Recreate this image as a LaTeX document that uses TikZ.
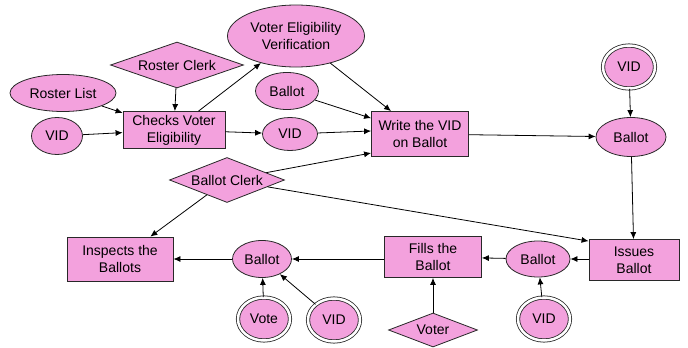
\documentclass[tikz,border=0pt]{standalone}
\usepackage{fontspec}
\setmainfont{Liberation Sans}
\usetikzlibrary{shapes.geometric,arrows.meta}
\definecolor{pinkf}{RGB}{243,161,221}
\definecolor{edgec}{RGB}{40,40,40}
\begin{document}
\begin{tikzpicture}[x=1pt,y=-1pt,
 every node/.style={font=\fontsize{14}{17}\selectfont, align=center, inner sep=0pt},
 base/.style={draw=edgec, fill=pinkf, line width=0.8pt},
 ell/.style={base, ellipse},
 dell/.style={ell, double, double distance=2.5pt, minimum width=52pt, minimum height=43pt},
 box/.style={base, rectangle},
 dia/.style={base, diamond},
 arr/.style={-{Latex[length=7pt,width=6pt]}, line width=0.8pt, draw=black}]
\path[fill=white] (0,0) rectangle (688,348);
\useasboundingbox (0,0) rectangle (688,348);

% nodes
\node[ell, minimum width=137pt, minimum height=62pt] (vev) at (296,36) {Voter Eligibility\\Verification};
\node[dia, shape aspect=2.9, minimum width=133pt, minimum height=46pt] (rclerk) at (177,65) {Roster Clerk};
\node[ell, minimum width=106pt, minimum height=37pt] (rlist) at (63,93) {Roster List};
\node[ell, minimum width=51pt, minimum height=37pt] (vid1) at (57,136) {VID};
\node[box, minimum width=102pt, minimum height=37pt] (checks) at (174,130) {Checks Voter\\Eligibility};
\node[ell, minimum width=63pt, minimum height=37pt] (ballot1) at (287,91) {Ballot};
\node[ell, minimum width=55pt, minimum height=33pt] (vid2) at (290,134) {VID};
\node[box, minimum width=97pt, minimum height=45pt] (write) at (420,134) {Write the VID\\on Ballot};
\node[dell] (vid3) at (629,67) {VID};
\node[ell, minimum width=70pt, minimum height=39pt] (ballot2) at (631,137) {Ballot};
\node[dia, shape aspect=2.55, minimum width=115pt, minimum height=45pt] (bclerk) at (227,180) {Ballot Clerk};
\node[box, minimum width=106pt, minimum height=44pt] (inspect) at (120,259) {Inspects the\\Ballots};
\node[ell, minimum width=59pt, minimum height=37pt] (ballot3) at (262,259) {Ballot};
\node[dell] (vote) at (264,319) {Vote};
\node[dell] (vid4) at (334,320) {VID};
\node[box, minimum width=97pt, minimum height=41pt] (fills) at (433,257) {Fills the\\Ballot};
\node[dia, shape aspect=2.6, minimum width=89pt, minimum height=34pt] (voter) at (433,330) {Voter};
\node[ell, minimum width=64pt, minimum height=36pt] (ballot4) at (538,259) {Ballot};
\node[dell] (vid5) at (544,319) {VID};
\node[box, minimum width=90pt, minimum height=41pt] (issues) at (634,260) {Issues\\Ballot};

% edges
\draw[arr] (rlist) -- (checks);
\draw[arr] (vid1) -- (checks);
\draw[arr] (rclerk) -- (checks);
\draw[arr] (checks) -- (vev);
\draw[arr] (checks) -- (vid2);
\draw[arr] (vev) -- (write);
\draw[arr] (ballot1) -- (write);
\draw[arr] (vid2) -- ([yshift=3pt]write.west);
\draw[arr] (bclerk) -- ([yshift=-19pt]write.west);
\draw[arr] (bclerk) -- (inspect);
\draw[arr] (bclerk) -- ([yshift=-2pt]issues.north west);
\draw[arr] (write) -- (ballot2);
\draw[arr] (vid3) -- (ballot2);
\draw[arr] (ballot2) -- (issues);
\draw[arr] (issues.west |- ballot4.east) -- (ballot4.east);
\draw[arr] (ballot4) -- (fills);
\draw[arr] (vid5) -- (ballot4);
\draw[arr] (voter) -- (fills);
\draw[arr] (fills.west |- ballot3.east) -- (ballot3.east);
\draw[arr] (vote) -- (ballot3);
\draw[arr] (vid4) -- (ballot3);
\draw[arr] (ballot3) -- (inspect.east |- ballot3.west);
\end{tikzpicture}
\end{document}
